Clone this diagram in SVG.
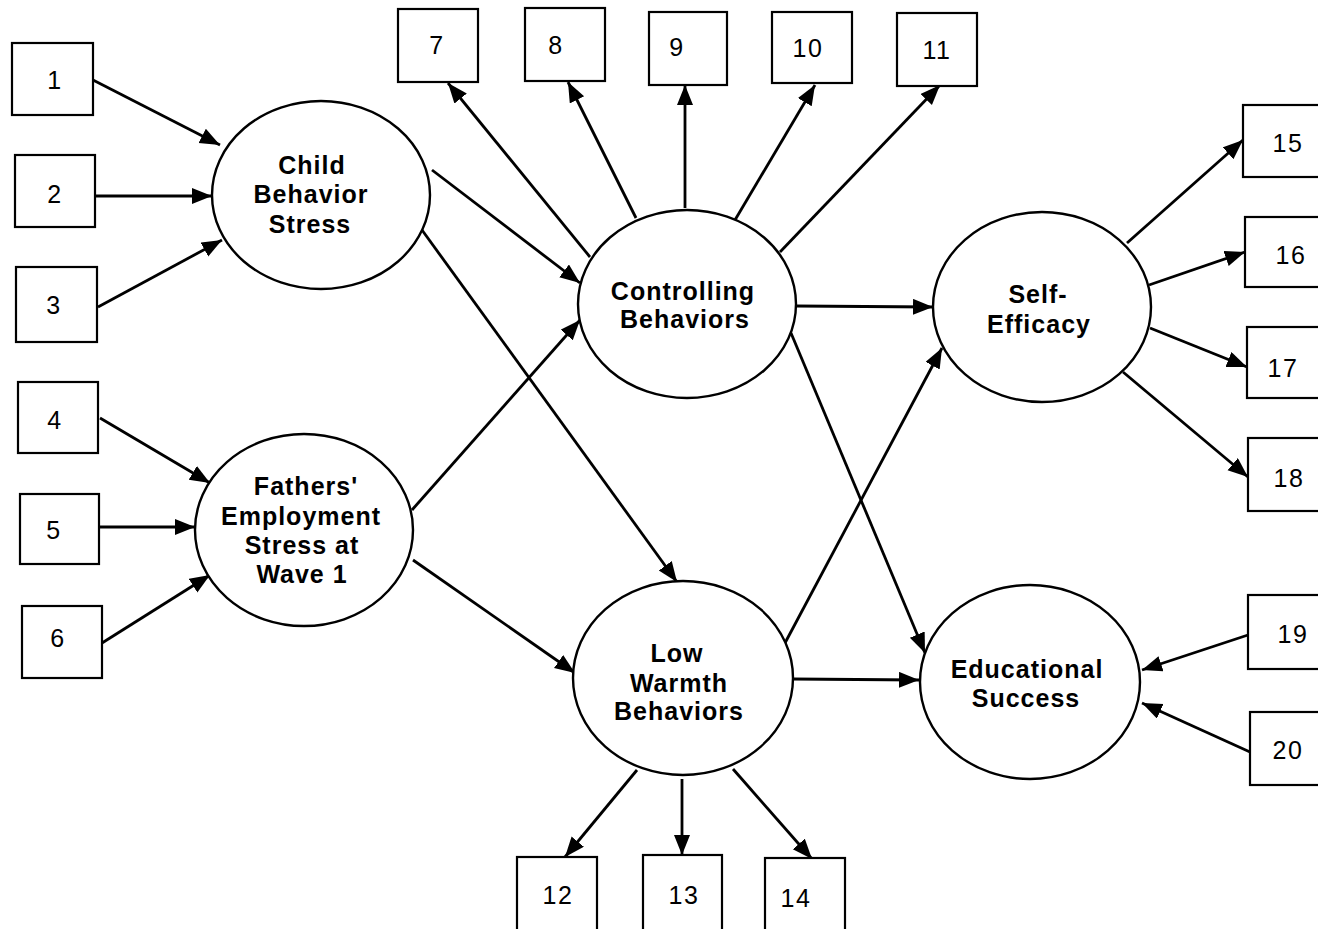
<svg xmlns="http://www.w3.org/2000/svg" width="1318" height="929" viewBox="0 0 1318 929">
<style>
.box{fill:#fff;stroke:#000;stroke-width:2.2}
.ell{fill:#fff;stroke:#000;stroke-width:2.4}
.num{font-family:"Liberation Sans",Arial,sans-serif;font-size:25px;fill:#000;text-anchor:middle;letter-spacing:1.5px}
.lab{font-family:"Liberation Sans",Arial,sans-serif;font-size:25px;font-weight:bold;fill:#000;text-anchor:middle;letter-spacing:1px}
.con line{stroke:#000;stroke-width:2.8;marker-end:url(#ah)}
</style>
<defs>
<marker id="ah" markerUnits="userSpaceOnUse" markerWidth="22" markerHeight="18" refX="20" refY="8" orient="auto">
<path d="M0,0 L20,8 L0,16 z" fill="#000"/>
</marker>
</defs>
<rect width="1318" height="929" fill="#fff"/>
<g id="connectors" class="con">
<line x1="93" y1="80" x2="220" y2="145"/>
<line x1="95" y1="196" x2="212" y2="196"/>
<line x1="98" y1="307" x2="222" y2="240"/>
<line x1="100" y1="418" x2="210" y2="483"/>
<line x1="100" y1="527" x2="195" y2="527"/>
<line x1="102" y1="643" x2="210" y2="575"/>
<line x1="432" y1="170" x2="580" y2="283"/>
<line x1="422" y1="230" x2="677" y2="582"/>
<line x1="412" y1="510" x2="580" y2="320"/>
<line x1="413" y1="560" x2="575" y2="673"/>
<line x1="590" y1="257" x2="448" y2="83"/>
<line x1="636" y1="218" x2="568" y2="82"/>
<line x1="685" y1="208" x2="685" y2="85"/>
<line x1="735" y1="220" x2="815" y2="85"/>
<line x1="780" y1="252" x2="940" y2="85"/>
<line x1="796" y1="306" x2="933" y2="307"/>
<line x1="791" y1="333" x2="925" y2="653"/>
<line x1="785" y1="643" x2="942" y2="348"/>
<line x1="793" y1="679" x2="919" y2="680"/>
<line x1="637" y1="770" x2="565" y2="857"/>
<line x1="682" y1="779" x2="682" y2="855"/>
<line x1="733" y1="769" x2="812" y2="859"/>
<line x1="1127" y1="243" x2="1243" y2="140"/>
<line x1="1149" y1="285" x2="1245" y2="252"/>
<line x1="1150" y1="328" x2="1247" y2="367"/>
<line x1="1123" y1="372" x2="1248" y2="477"/>
<line x1="1248" y1="635" x2="1142" y2="670"/>
<line x1="1250" y1="752" x2="1142" y2="703"/>
</g>
<g id="n1"><rect class="box" x="12" y="43" width="81" height="72"/><text class="num" x="55" y="89">1</text></g>
<g id="n2"><rect class="box" x="15" y="155" width="80" height="72"/><text class="num" x="55" y="203">2</text></g>
<g id="n3"><rect class="box" x="16" y="267" width="81" height="75"/><text class="num" x="54" y="314">3</text></g>
<g id="n4"><rect class="box" x="18" y="382" width="80" height="71"/><text class="num" x="55" y="429">4</text></g>
<g id="n5"><rect class="box" x="20" y="494" width="79" height="70"/><text class="num" x="54" y="539">5</text></g>
<g id="n6"><rect class="box" x="22" y="606" width="80" height="72"/><text class="num" x="58" y="647">6</text></g>
<g id="n7"><rect class="box" x="398" y="9" width="80" height="73"/><text class="num" x="437" y="54">7</text></g>
<g id="n8"><rect class="box" x="525" y="8" width="80" height="73"/><text class="num" x="556" y="54">8</text></g>
<g id="n9"><rect class="box" x="649" y="12" width="78" height="73"/><text class="num" x="677" y="56">9</text></g>
<g id="n10"><rect class="box" x="772" y="12" width="80" height="71"/><text class="num" x="808" y="57">10</text></g>
<g id="n11"><rect class="box" x="897" y="13" width="80" height="73"/><text class="num" x="937" y="59">11</text></g>
<g id="n12"><rect class="box" x="517" y="857" width="80" height="80"/><text class="num" x="558" y="904">12</text></g>
<g id="n13"><rect class="box" x="643" y="855" width="79" height="80"/><text class="num" x="684" y="904">13</text></g>
<g id="n14"><rect class="box" x="765" y="858" width="80" height="80"/><text class="num" x="796" y="907">14</text></g>
<g id="n15"><rect class="box" x="1243" y="105" width="90" height="72"/><text class="num" x="1288" y="152">15</text></g>
<g id="n16"><rect class="box" x="1245" y="217" width="90" height="70"/><text class="num" x="1291" y="264">16</text></g>
<g id="n17"><rect class="box" x="1247" y="327" width="90" height="71"/><text class="num" x="1283" y="377">17</text></g>
<g id="n18"><rect class="box" x="1248" y="438" width="90" height="73"/><text class="num" x="1289" y="487">18</text></g>
<g id="n19"><rect class="box" x="1248" y="595" width="90" height="74"/><text class="num" x="1293" y="643">19</text></g>
<g id="n20"><rect class="box" x="1250" y="712" width="90" height="73"/><text class="num" x="1288" y="759">20</text></g>
<g id="cbs"><ellipse class="ell" cx="321" cy="195" rx="109" ry="94"/>
<text class="lab" x="312" y="174">Child</text><text class="lab" x="311" y="203">Behavior</text><text class="lab" x="310" y="233">Stress</text></g>
<g id="fes"><ellipse class="ell" cx="304" cy="530" rx="109" ry="96"/>
<text class="lab" x="306" y="495">Fathers'</text><text class="lab" x="301" y="525">Employment</text><text class="lab" x="302" y="554">Stress at</text><text class="lab" x="302" y="583">Wave 1</text></g>
<g id="cb"><ellipse class="ell" cx="687" cy="304" rx="109" ry="94"/>
<text class="lab" x="683" y="300">Controlling</text><text class="lab" x="685" y="328">Behaviors</text></g>
<g id="lwb"><ellipse class="ell" cx="683" cy="678" rx="110" ry="97"/>
<text class="lab" x="677" y="662">Low</text><text class="lab" x="679" y="692">Warmth</text><text class="lab" x="679" y="720">Behaviors</text></g>
<g id="se"><ellipse class="ell" cx="1042" cy="307" rx="109" ry="95"/>
<text class="lab" x="1038" y="303">Self-</text><text class="lab" x="1039" y="333">Efficacy</text></g>
<g id="es"><ellipse class="ell" cx="1030" cy="682" rx="110" ry="97"/>
<text class="lab" x="1027" y="678">Educational</text><text class="lab" x="1026" y="707">Success</text></g>
</svg>
